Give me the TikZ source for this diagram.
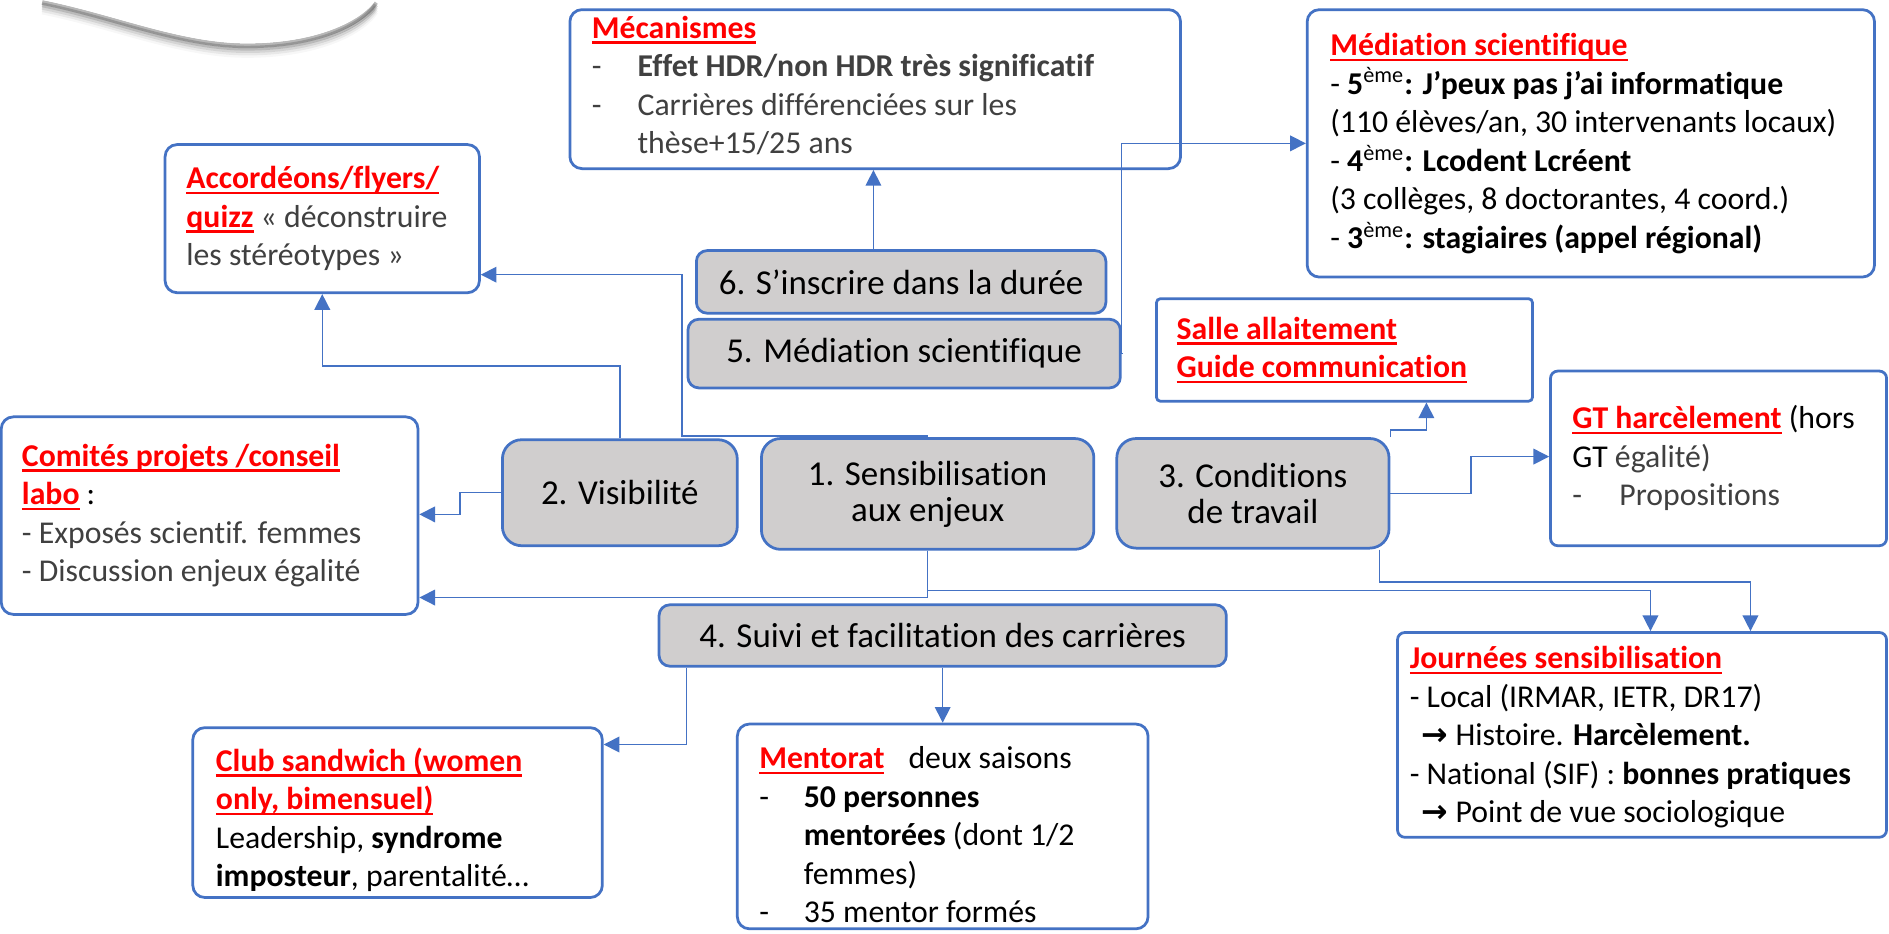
\documentclass[tikz,border=0pt]{standalone}
\usepackage{fontspec}
\setmainfont{Carlito}[Ligatures={NoCommon}]
\newfontfamily\djv{DejaVu Sans}
\usetikzlibrary{arrows.meta}
\definecolor{bblue}{HTML}{4472C4}
\definecolor{boxgray}{HTML}{D0CECE}
\definecolor{tgray}{HTML}{404040}
\definecolor{hred}{HTML}{FF0000}
\newcommand\fs{\fontsize{15pt}{18.2pt}\selectfont}
\newcommand\fg{\fontsize{16.5pt}{17pt}\selectfont}
\newsavebox\ulbx
\newcommand\ulr[1]{\sbox\ulbx{#1}\rlap{\rule[-0.17em]{\wd\ulbx}{0.075em}}\usebox\ulbx}
\newcommand\rh[1]{{\color{hred}\bfseries\ulr{#1}}}
\newcommand\dsh[1]{\makebox[#1][l]{-}}
\tikzset{
  frame/.style={draw=bblue, line width=1.3pt, fill=white, rounded corners=#1, inner sep=0pt},
  frame/.default=0.2cm,
  gbox/.style={draw=bblue, line width=1.3pt, fill=boxgray, rounded corners=#1, inner sep=0pt, align=center, font=\fg},
  gbox/.default=0.18cm,
  txt/.style={inner sep=0pt, align=left, font=\fs, anchor=west},
  arr/.style={draw=bblue, line width=0.7pt, -{Triangle[length=0.26cm,width=0.26cm]}},
}
\begin{document}
\begin{tikzpicture}[x=0.02cm, y=-0.02cm]
\useasboundingbox (0,0) rectangle (1568,774.5);
\fill[white] (0,0) rectangle (1568,774.5);

% partial shape top-left with shadow
\foreach \d/\o in {2/0.28,4/0.18,6/0.11,8/0.06,10/0.03} {
  \draw[line width=0.08cm, black, opacity=\o] (35,\d) .. controls (95,12+\d) and (150,36+\d) .. (205,36+\d) .. controls (262,36+\d) and (300,18+\d) .. (312,\d);
}
\fill[white] (30,-5) -- (35,0) .. controls (95,12) and (150,36) .. (205,36) .. controls (262,36) and (300,18) .. (312,0) -- (317,-5) -- cycle;

% white boxes
\node[frame, minimum width=10.14cm, minimum height=2.64cm] (mec) at (726.5,74) {};
\node[txt] (mect) at ([xshift=0.38cm,yshift=0.06cm]mec.west) {\rh{Mécanismes}\\
{\color{tgray}\dsh{0.76cm}\textbf{Effet HDR/non HDR très significatif}}\\
{\color{tgray}\dsh{0.76cm}Carrières différenciées sur les}\\
{\color{tgray}\hspace*{0.76cm}thèse+15/25 ans}};

\node[frame, minimum width=9.42cm, minimum height=4.44cm] (medb) at (1320.5,119) {};
\node[txt] (medt) at ([xshift=0.4cm]medb.west) {\rh{Médiation scientifique}\\
- \textbf{5}\textsuperscript{ème}\textbf{: J’peux pas j’ai informatique}\\
(110 élèves/an, 30 intervenants locaux)\\
- \textbf{4}\textsuperscript{ème}\textbf{: Lcodent Lcréent}\\
(3 collèges, 8 doctorantes, 4 coord.)\\
- \textbf{3}\textsuperscript{ème}\textbf{: stagiaires (appel régional)}};

\node[frame, minimum width=5.22cm, minimum height=2.46cm] (acc) at (267.5,181.5) {};
\node[txt] (acct) at ([xshift=0.37cm]acc.west) {\rh{Accordéons/flyers/}\\
\rh{quizz} {\color{tgray}« déconstruire}\\
{\color{tgray}les stéréotypes »}};

\node[frame=0.06cm, minimum width=6.24cm, minimum height=1.7cm] (salle) at (1116,290.5) {};
\node[txt] (sallet) at ([xshift=0.35cm]salle.west) {\rh{Salle allaitement}\\ \rh{Guide communication}};

\node[frame=0.12cm, minimum width=5.58cm, minimum height=2.9cm] (gt) at (1426.5,380.5) {};
\node[txt] (gtt) at ([xshift=0.38cm]gt.west) {\rh{GT harcèlement} (hors\\
GT {\color{tgray}égalité)}\\
{\color{tgray}\dsh{0.78cm}Propositions}};

\node[frame, minimum width=6.92cm, minimum height=3.28cm] (com) at (174,428) {};
\node[txt] (comt) at ([xshift=0.36cm]com.west) {\rh{Comités projets /conseil}\\
\rh{labo} :\\
{\color{tgray}- Exposés scientif. femmes}\\
{\color{tgray}- Discussion enjeux égalité}};

\node[frame=0.12cm, minimum width=8.12cm, minimum height=3.4cm] (jour) at (1363,610) {};
\node[txt] (jourt) at ([xshift=0.22cm,yshift=-0.04cm]jour.west) {\rh{Journées sensibilisation}\\
- Local (IRMAR, IETR, DR17)\\
\hspace*{0.2cm}{\djv\bfseries →} Histoire. \textbf{Harcèlement.}\\
- National (SIF) : \textbf{bonnes pratiques}\\
\hspace*{0.2cm}{\djv\bfseries →} Point de vue sociologique};

\node[frame, minimum width=6.8cm, minimum height=2.82cm] (club) at (330,674.5) {};
\node[txt] (clubt) at ([xshift=0.4cm,yshift=-0.12cm]club.west) {\rh{Club sandwich (women}\\
\rh{only, bimensuel)}\\
Leadership, \textbf{syndrome}\\
\textbf{imposteur}, parentalité…};

\node[frame, minimum width=6.82cm, minimum height=3.4cm] (ment) at (782.5,686) {};
\node[txt] (mentt) at ([xshift=0.38cm,yshift=-0.14cm]ment.west) {\rh{Mentorat}\hspace{0.4cm}deux saisons\\
\dsh{0.74cm}\textbf{50 personnes}\\
\hspace*{0.74cm}\textbf{mentorées} (dont 1/2\\
\hspace*{0.74cm}femmes)\\
\dsh{0.74cm}35 mentor formés};

% gray boxes
\node[gbox, minimum width=6.8cm, minimum height=1.04cm] (s6) at (748,234) {6. S’inscrire dans la durée};
\node[gbox, minimum width=7.18cm, minimum height=1.14cm] (s5) at (750.5,293.5) {5. Médiation scientifique};
\node[gbox=0.32cm, minimum width=3.9cm, minimum height=1.76cm] (vis) at (514.5,409) {2. Visibilité};
\node[gbox=0.32cm, minimum width=5.52cm, minimum height=1.84cm] (sens) at (770,410) {1. Sensibilisation\\aux enjeux};
\node[gbox=0.32cm, minimum width=4.52cm, minimum height=1.82cm] (cond) at (1040,409.5) {3. Conditions\\de travail};
\node[gbox, minimum width=9.42cm, minimum height=1.02cm] (s4) at (782.5,527.5) {4. Suivi et facilitation des carrières};

% connectors
\coordinate (ka) at (267.5,304);
\draw[arr] (vis.north) |- (ka) -- (acc.south);

\coordinate (kb1) at (566,362);
\coordinate (kb2) at (566,228);
\draw[arr] (sens.north) |- (kb1) -- (kb2) -- (acc.east |- kb2);

\coordinate (kc) at (725,0);
\draw[arr] (s6.north -| kc) -- (mec.south -| kc);

\coordinate (kd) at (931,119);
\draw[arr] (s5.east) -| (kd) -- (medb.west |- kd);

\coordinate (ke1) at (382,409);
\coordinate (ke2) at (382,427);
\draw[arr] (vis.west) -- (vis.west -| ke1) |- (com.east |- ke2);

\coordinate (kf) at (0,496);
\draw[arr] (sens.south) |- (com.east |- kf);

\coordinate (kg) at (1370,490);
\draw[arr] (sens.south) |- (kg) -- (kg |- jour.north);

\coordinate (kh) at (1453,483);
\draw[arr] ([xshift=-0.18cm]cond.south east) |- (kh) -- (kh |- jour.north);

\coordinate (ki) at (570,618);
\draw[arr] (s4.south -| ki) |- (club.east |- ki);

\draw[arr] (s4.south) -- (ment.north);

\coordinate (kk) at (1184,357);
\draw[arr] (cond.north east) |- (kk) -- (kk |- salle.south);

\coordinate (kl) at (1221,379);
\draw[arr] (cond.east) -| (kl) -- (gt.west |- kl);
\end{tikzpicture}
\end{document}
